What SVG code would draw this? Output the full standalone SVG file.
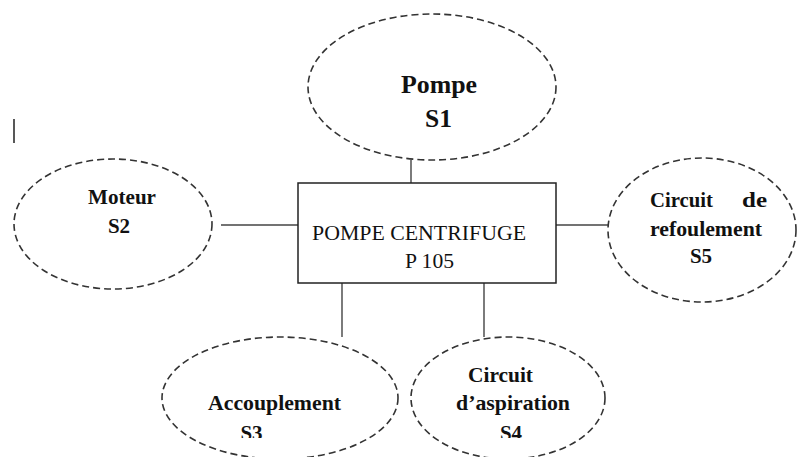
<svg xmlns="http://www.w3.org/2000/svg" width="797" height="457" viewBox="0 0 797 457">
  <style>
    .sub { fill: none; stroke: #333; stroke-width: 1.6; stroke-dasharray: 7 4; }
    .lbl { font-family: "Liberation Serif", "Times New Roman", serif; font-weight: bold; font-size: 21px; fill: #111; }
    .main { font-family: "Liberation Serif", "Times New Roman", serif; font-size: 21px; fill: #111; }
    .link { stroke: #444; stroke-width: 1.4; fill: none; }
  </style>
  <defs>
    <clipPath id="bottomCut">
      <rect x="0" y="0" width="797" height="438"/>
    </clipPath>
  </defs>
  <rect width="797" height="457" fill="#fff"/>

  <!-- stray cursor mark -->
  <line x1="14" y1="119" x2="14" y2="143" stroke="#111" stroke-width="1.4"/>

  <g id="connectors">
    <line class="link" x1="411" y1="160" x2="411" y2="183"/>
    <line class="link" x1="221" y1="225" x2="298" y2="225"/>
    <line class="link" x1="556" y1="225" x2="608" y2="225"/>
    <line class="link" x1="342" y1="283" x2="342" y2="337"/>
    <line class="link" x1="484" y1="283" x2="484" y2="337"/>
  </g>

  <g id="pompe-centrifuge">
    <rect x="298" y="183" width="258" height="100" fill="#fff" stroke="#222" stroke-width="1.5"/>
    <text class="main" x="312" y="240" textLength="214" lengthAdjust="spacingAndGlyphs">POMPE CENTRIFUGE</text>
    <text class="main" x="405" y="268" textLength="49" lengthAdjust="spacingAndGlyphs">P 105</text>
  </g>

  <g id="s1-pompe">
    <ellipse class="sub" cx="432" cy="87" rx="124" ry="73"/>
    <text class="lbl" x="401" y="93" style="font-size:25.5px" textLength="76" lengthAdjust="spacingAndGlyphs">Pompe</text>
    <text class="lbl" x="438.5" y="127" text-anchor="middle" style="font-size:25.5px">S1</text>
  </g>

  <g id="s2-moteur">
    <ellipse class="sub" cx="113" cy="224" rx="99" ry="65"/>
    <text class="lbl" x="88" y="204" textLength="68" lengthAdjust="spacingAndGlyphs">Moteur</text>
    <text class="lbl" x="119" y="233" text-anchor="middle">S2</text>
  </g>

  <g id="s5-refoulement">
    <ellipse class="sub" cx="702" cy="230" rx="94" ry="72"/>
    <text class="lbl" x="650" y="207" textLength="63" lengthAdjust="spacingAndGlyphs">Circuit</text>
    <text class="lbl" x="742" y="207" textLength="25" lengthAdjust="spacingAndGlyphs">de</text>
    <text class="lbl" x="650" y="236" textLength="112" lengthAdjust="spacingAndGlyphs">refoulement</text>
    <text class="lbl" x="701" y="263" text-anchor="middle">S5</text>
  </g>

  <g id="s3-accouplement">
    <ellipse class="sub" cx="280" cy="398" rx="118" ry="61"/>
    <text class="lbl" x="208" y="410" textLength="133" lengthAdjust="spacingAndGlyphs">Accouplement</text>
    <text class="lbl" x="251.5" y="440" text-anchor="middle" clip-path="url(#bottomCut)">S3</text>
  </g>

  <g id="s4-aspiration">
    <ellipse class="sub" cx="508" cy="398" rx="97" ry="61"/>
    <text class="lbl" x="468" y="382" textLength="65" lengthAdjust="spacingAndGlyphs">Circuit</text>
    <text class="lbl" x="456" y="410" textLength="114" lengthAdjust="spacingAndGlyphs">d’aspiration</text>
    <text class="lbl" x="511" y="440" text-anchor="middle" clip-path="url(#bottomCut)">S4</text>
  </g>
</svg>
